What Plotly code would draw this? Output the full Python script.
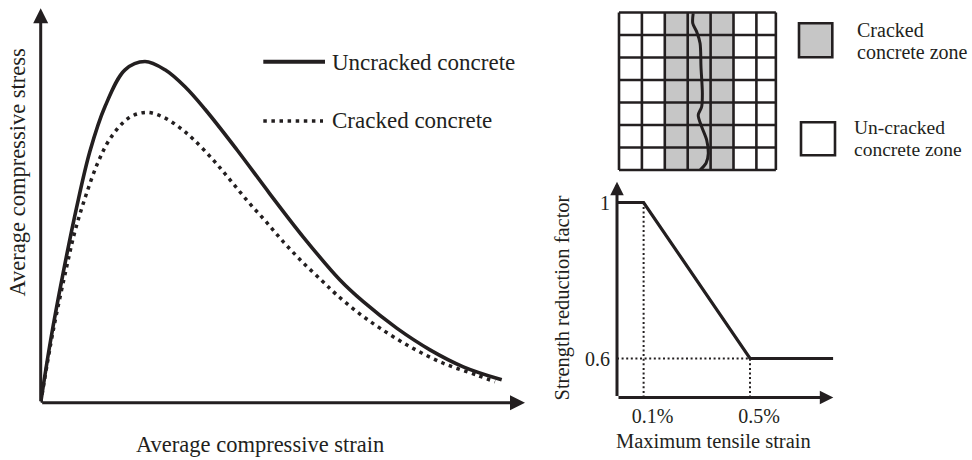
import plotly.graph_objects as go

W, H = 972, 460
INK = "#231f20"
FONT = "Liberation Serif, Times New Roman, serif"

# ---------------- Left chart: schematic compressive stress-strain (arbitrary units)
strain_uncracked = [0, 0.206, 0.467, 0.743, 1.018, 1.328, 1.741, 2.153, 2.567, 2.980, 3.393,
                    4.047, 4.735, 5.422, 6.180, 6.661, 7.351, 8.038, 8.726, 9.519]
stress_uncracked = [0, 1.59, 3.31, 4.96, 6.38, 7.51, 8.44, 8.65, 8.44, 8.01, 7.44,
                    6.42, 5.29, 4.20, 3.11, 2.56, 1.89, 1.34, 0.91, 0.58]
strain_cracked = [0, 0.260, 0.537, 0.708, 0.929, 1.189, 1.452, 1.829, 2.189, 2.546, 2.876,
                  3.151, 3.551, 3.909, 4.280, 4.652, 5.024, 5.410, 5.808, 6.091, 6.525,
                  7.006, 7.626, 8.313, 9.003, 9.380]
stress_cracked = [0, 1.84, 3.45, 4.35, 5.24, 6.11, 6.73, 7.23, 7.36, 7.23, 6.97,
                  6.68, 6.17, 5.65, 5.10, 4.59, 4.06, 3.56, 3.09, 2.76, 2.31,
                  1.89, 1.42, 1.00, 0.70, 0.53]
series_names = ["Uncracked concrete", "Cracked concrete"]

# ---------------- Right chart: strength reduction factor vs max tensile strain
tensile_strain_pct = [0, 0.1, 0.5, 0.813]
reduction_factor = [1.0, 1.0, 0.6, 0.6]
strain_tick_vals = [0.1, 0.5]
strain_tick_text = ["0.1%", "0.5%"]
factor_tick_vals = [0.6, 1.0]
factor_tick_text = ["0.6", "1"]

# ---------------- Grid of cracked / un-cracked zones
grid_col_edges = [0, 1, 2, 3, 4, 5, 6, 6.85]
grid_row_edges = [0, 1, 2, 3, 4, 5, 6, 7]
cracked_cols = [2, 3, 4]
crack_x = [3.24, 3.22, 3.39, 3.54, 3.58, 3.64, 3.61, 3.46, 3.61, 3.83, 3.90, 3.80, 3.54]
crack_y = [6.96, 6.52, 6.15, 5.63, 4.59, 3.41, 2.81, 2.44, 1.92, 1.33, 0.74, 0.30, 0.0]
zone_labels = [["Cracked", "concrete zone"], ["Un-cracked", "concrete zone"]]


def px_x(p):
    return p / W


def px_y(p):
    return 1 - p / H


fig = go.Figure()

# --- left curves
fig.add_trace(go.Scatter(x=strain_uncracked, y=stress_uncracked, mode="lines",
                         line=dict(color=INK, width=3.6, shape="spline", smoothing=1.0),
                         xaxis="x", yaxis="y", name=series_names[0], hoverinfo="skip"))
fig.add_trace(go.Scatter(x=strain_cracked, y=stress_cracked, mode="lines",
                         line=dict(color=INK, width=3.5, dash="3.5px,4.6px", shape="spline", smoothing=1.0),
                         xaxis="x", yaxis="y", name=series_names[1], hoverinfo="skip"))

# --- right chart guides and curve
gx, gy = [], []
gx += [tensile_strain_pct[1], tensile_strain_pct[1], None]
gy += [0.5, reduction_factor[1], None]
gx += [tensile_strain_pct[2], tensile_strain_pct[2], None]
gy += [0.5, reduction_factor[2], None]
gx += [0, tensile_strain_pct[2]]
gy += [reduction_factor[2], reduction_factor[2]]
fig.add_trace(go.Scatter(x=gx, y=gy, mode="lines",
                         line=dict(color=INK, width=2, dash="2px,2.6px"),
                         xaxis="x2", yaxis="y2", hoverinfo="skip"))
fig.add_trace(go.Scatter(x=tensile_strain_pct, y=reduction_factor, mode="lines",
                         line=dict(color=INK, width=3.2),
                         xaxis="x2", yaxis="y2", hoverinfo="skip"))

# --- grid
ncols = len(grid_col_edges) - 1
nrows = len(grid_row_edges) - 1
z = [[1 if c in cracked_cols else 0 for c in range(ncols)] for r in range(nrows)]
fig.add_trace(go.Heatmap(x=grid_col_edges, y=grid_row_edges, z=z,
                         colorscale=[[0, "white"], [1, "#c6c6c6"]], showscale=False,
                         zmin=0, zmax=1, xaxis="x3", yaxis="y3", hoverinfo="skip"))
lx, ly = [], []
for e in grid_col_edges:
    lx += [e, e, None]
    ly += [grid_row_edges[0], grid_row_edges[-1], None]
for e in grid_row_edges:
    lx += [grid_col_edges[0], grid_col_edges[-1], None]
    ly += [e, e, None]
fig.add_trace(go.Scatter(x=lx, y=ly, mode="lines", line=dict(color=INK, width=2.6),
                         xaxis="x3", yaxis="y3", hoverinfo="skip"))
fig.add_trace(go.Scatter(x=crack_x, y=crack_y, mode="lines",
                         line=dict(color=INK, width=3, shape="spline", smoothing=0.8),
                         xaxis="x3", yaxis="y3", hoverinfo="skip"))

hidden = dict(showline=False, showgrid=False, zeroline=False, showticklabels=False, ticks="")

# left axes: origin px (40.7, 402.7), x tip 525, y tip 8.3
L_x0, L_x1, L_y0, L_y1 = 40.7, 525.0, 402.7, 8.3
# right axes: origin px (617, 397.5), x tip 833.3, y tip 181.7
R_x0, R_x1, R_y0, R_y1 = 617.0, 833.3, 397.5, 181.7
R_xmax = 0.813
R_ymax = 0.5 + (R_y0 - R_y1) / 390.0
# grid axes
G_ppx, G_ppy = 22.9, 22.5
G_left, G_bottom = 619.0, 170.0

fig.update_layout(
    width=W, height=H, margin=dict(l=0, r=0, t=0, b=0),
    paper_bgcolor="white", plot_bgcolor="rgba(0,0,0,0)", showlegend=False,
    font=dict(family=FONT, color=INK),
    xaxis=dict(domain=[px_x(L_x0), px_x(L_x1)], range=[0, 10], **hidden),
    yaxis=dict(domain=[px_y(L_y0), px_y(L_y1)], range=[0, 10], **hidden),
    xaxis2=dict(domain=[px_x(R_x0), px_x(R_x1)], range=[0, R_xmax], anchor="y2",
                showline=False, showgrid=False, zeroline=False, ticks="",
                tickvals=strain_tick_vals, ticktext=strain_tick_text,
                tickfont=dict(size=20, family=FONT, color=INK),
                ticklabelshift=9, ticklabelstandoff=4),
    yaxis2=dict(domain=[px_y(R_y0), px_y(R_y1)], range=[0.5, R_ymax], anchor="x2",
                showline=False, showgrid=False, zeroline=False, ticks="",
                tickvals=factor_tick_vals, ticktext=factor_tick_text,
                tickfont=dict(size=20, family=FONT, color=INK), ticklabelstandoff=6),
    xaxis3=dict(domain=[px_x(G_left - 0.1 * G_ppx), px_x(G_left + 6.95 * G_ppx)],
                range=[-0.1, 6.95], anchor="y3", **hidden),
    yaxis3=dict(domain=[px_y(G_bottom + 0.1 * G_ppy), px_y(G_bottom - 7.1 * G_ppy)],
                range=[-0.1, 7.1], anchor="x3", **hidden),
)

ann = []
# axis arrows
ann.append(dict(x=0, y=10, ax=0, ay=0, xref="x", yref="y", axref="x", ayref="y", text="",
                showarrow=True, arrowhead=2, arrowsize=1, arrowwidth=3, arrowcolor=INK, standoff=0))
ann.append(dict(x=10, y=0, ax=0, ay=0, xref="x", yref="y", axref="x", ayref="y", text="",
                showarrow=True, arrowhead=2, arrowsize=1, arrowwidth=3, arrowcolor=INK, standoff=0))
ann.append(dict(x=0, y=R_ymax, ax=0, ay=0.5, xref="x2", yref="y2", axref="x2", ayref="y2", text="",
                showarrow=True, arrowhead=2, arrowsize=0.9, arrowwidth=3, arrowcolor=INK, standoff=0))
ann.append(dict(x=R_xmax, y=0.5, ax=0, ay=0.5, xref="x2", yref="y2", axref="x2", ayref="y2", text="",
                showarrow=True, arrowhead=2, arrowsize=0.9, arrowwidth=3, arrowcolor=INK, standoff=0))


def txt(s, x, y, size, xanchor="center", angle=0):
    return dict(text=s, x=px_x(x), y=px_y(y), xref="paper", yref="paper", showarrow=False,
                xanchor=xanchor, yanchor="middle", textangle=angle,
                font=dict(size=size, family=FONT, color=INK))


ann.append(txt("Average compressive stress", 17, 172.5, 22.5, angle=-90))
ann.append(txt("Average compressive strain", 260, 444, 22.5))
ann.append(txt("Strength reduction factor", 561.5, 298, 20.5, angle=-90))
ann.append(txt("Maximum tensile strain", 713.3, 441, 20.5))
ann.append(txt(series_names[0], 330, 62, 23, xanchor="left"))
ann.append(txt(series_names[1], 330, 121, 23, xanchor="left"))
ann.append(txt(zone_labels[0][0], 855, 30, 20, xanchor="left"))
ann.append(txt(zone_labels[0][1], 855, 52, 20, xanchor="left"))
ann.append(txt(zone_labels[1][0], 851.7, 127, 19.5, xanchor="left"))
ann.append(txt(zone_labels[1][1], 851.7, 149, 19.5, xanchor="left"))
fig.update_layout(annotations=ann)

shapes = [
    dict(type="line", xref="paper", yref="paper", x0=px_x(263.3), x1=px_x(325), y0=px_y(61.7), y1=px_y(61.7),
         line=dict(color=INK, width=4)),
    dict(type="line", xref="paper", yref="paper", x0=px_x(263.3), x1=px_x(323), y0=px_y(121), y1=px_y(121),
         line=dict(color=INK, width=3.5, dash="3.5px,4.6px")),
    dict(type="rect", xref="paper", yref="paper", x0=px_x(799), x1=px_x(832.3), y0=px_y(57.3), y1=px_y(23.3),
         line=dict(color=INK, width=2.6), fillcolor="#c6c6c6"),
    dict(type="rect", xref="paper", yref="paper", x0=px_x(801), x1=px_x(835), y0=px_y(155.3), y1=px_y(122.3),
         line=dict(color=INK, width=2.6), fillcolor="white"),
]
fig.update_layout(shapes=shapes)

fig.write_html("out.html")
